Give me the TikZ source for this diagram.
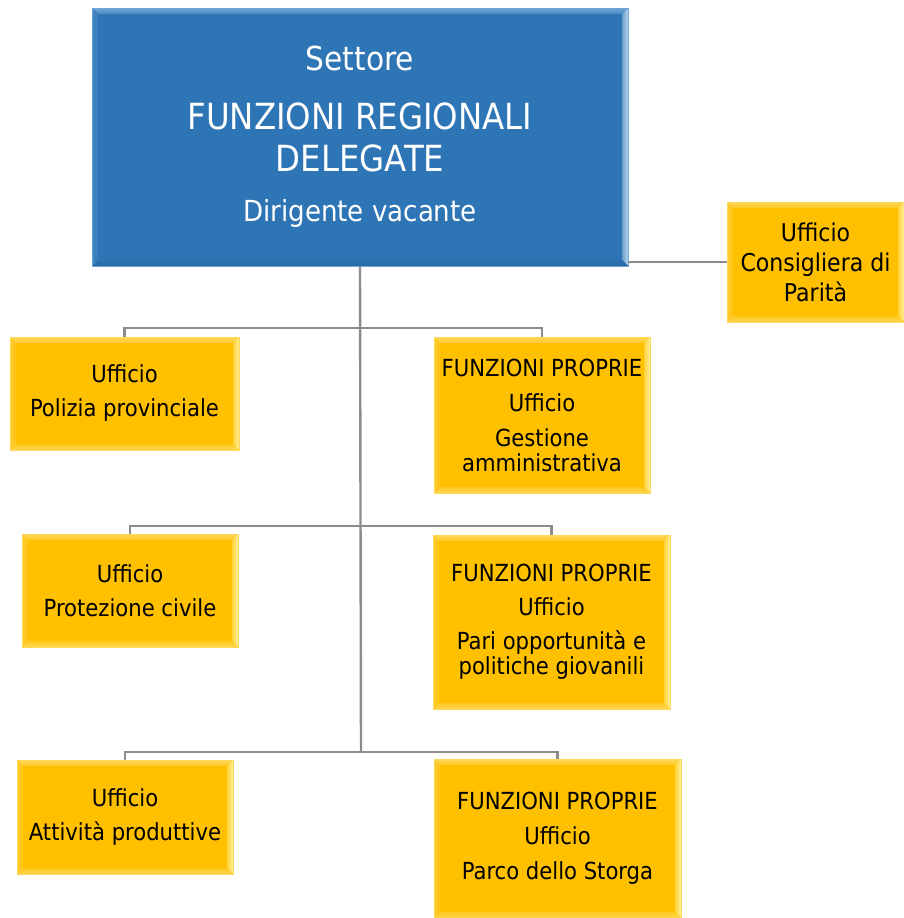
\documentclass[tikz,border=0pt]{standalone}
\usepackage{fontspec}
\setmainfont{DejaVu Sans Condensed}
\definecolor{bluebase}{RGB}{46,117,182}
\definecolor{bluetop}{RGB}{110,165,215}
\definecolor{blueright}{RGB}{190,215,238}
\definecolor{bluebot}{RGB}{40,106,168}
\definecolor{blueleft}{RGB}{66,134,196}
\definecolor{ybase}{RGB}{255,192,0}
\definecolor{ytop}{RGB}{255,216,90}
\definecolor{yright}{RGB}{255,240,150}
\definecolor{ybot}{RGB}{255,214,80}
\definecolor{yleft}{RGB}{255,204,50}
\definecolor{connc}{RGB}{140,140,140}
\newcommand\bevelpaint[5]{%
  \path (path picture bounding box.north west) coordinate (bvA)
        (path picture bounding box.north east) coordinate (bvB)
        (path picture bounding box.south east) coordinate (bvC)
        (path picture bounding box.south west) coordinate (bvD);
  \shade[top color=#2,bottom color=#2!40!#1] (bvA) -- (bvB) -- ([shift={(-6pt,-6pt)}]bvB) -- ([shift={(6pt,-6pt)}]bvA) -- cycle;
  \shade[left color=#3!40!#1,right color=#3] (bvB) -- (bvC) -- ([shift={(-6pt,6pt)}]bvC) -- ([shift={(-6pt,-6pt)}]bvB) -- cycle;
  \shade[bottom color=#4,top color=#4!40!#1] (bvC) -- (bvD) -- ([shift={(6pt,6pt)}]bvD) -- ([shift={(-6pt,6pt)}]bvC) -- cycle;
  \shade[left color=#5,right color=#5!40!#1] (bvD) -- (bvA) -- ([shift={(6pt,-6pt)}]bvA) -- ([shift={(6pt,6pt)}]bvD) -- cycle;
}
\tikzset{
  bluebox/.style={rectangle, fill=bluebase, draw=bluetop, line width=0.6pt, inner sep=0pt, outer sep=0pt,
    text=white, align=center,
    path picture={\bevelpaint{bluebase}{bluetop}{blueright}{bluebot}{blueleft}}},
  ybox/.style={rectangle, fill=ybase, draw=ytop, line width=0.6pt, inner sep=0pt, outer sep=0pt,
    text=black, align=center, font=\fontsize{23.5}{25}\selectfont,
    path picture={\bevelpaint{ybase}{ytop}{yright}{ybot}{yleft}}},
  conn/.style={draw=connc, line width=2.4pt, line join=miter}
}
\begin{document}
\begin{tikzpicture}[x=1pt,y=-1pt]
\useasboundingbox (0,0) rectangle (904,918);
\coordinate (j1) at (361,328);
\coordinate (j2) at (361,526);
\coordinate (j3) at (361,752);
% nodes
\node[bluebox, minimum width=536pt, minimum height=258pt, font=\fontsize{36}{42}\selectfont] (dir) at (360,137)
  {{\fontsize{33}{42}\selectfont Settore}\\[17pt]
   FUNZIONI REGIONALI\\
   DELEGATE\\[8pt]
   {\fontsize{29}{42}\selectfont Dirigente vacante}};
\node[ybox, minimum width=177pt, minimum height=120pt, font=\fontsize{24.5}{30}\selectfont] (cons) at (815.5,262)
  {Ufficio\\Consigliera di\\Parità};
\node[ybox, minimum width=229pt, minimum height=113pt] (pol) at (124.5,393.5)
  {Ufficio\\[9pt]Polizia provinciale};
\node[ybox, minimum width=216pt, minimum height=156pt] (gest) at (542,415)
  {FUNZIONI PROPRIE\\[10pt]Ufficio\\[10pt]Gestione\\amministrativa};
\node[ybox, minimum width=216pt, minimum height=113pt] (prot) at (130,590.5)
  {Ufficio\\[9pt]Protezione civile};
\node[ybox, minimum width=237pt, minimum height=174pt] (pari) at (551.5,622)
  {FUNZIONI PROPRIE\\[9pt]Ufficio\\[9pt]Pari opportunità e\\politiche giovanili};
\node[ybox, minimum width=216pt, minimum height=114pt] (att) at (125,817)
  {Ufficio\\[9pt]Attività produttive};
\node[ybox, minimum width=247pt, minimum height=159pt] (parco) at (557.5,838.5)
  {FUNZIONI PROPRIE\\[10pt]Ufficio\\[10pt]Parco dello Storga};
% connectors
\draw[conn] (dir.south) -- (j3);
\draw[conn] (pol.north) |- (j1) -| (gest.north);
\draw[conn] (prot.north) |- (j2) -| (pari.north);
\draw[conn] (att.north) |- (j3) -| (parco.north);
\draw[conn] (cons.west) -- (cons.west -| dir.east);
\end{tikzpicture}
\end{document}
